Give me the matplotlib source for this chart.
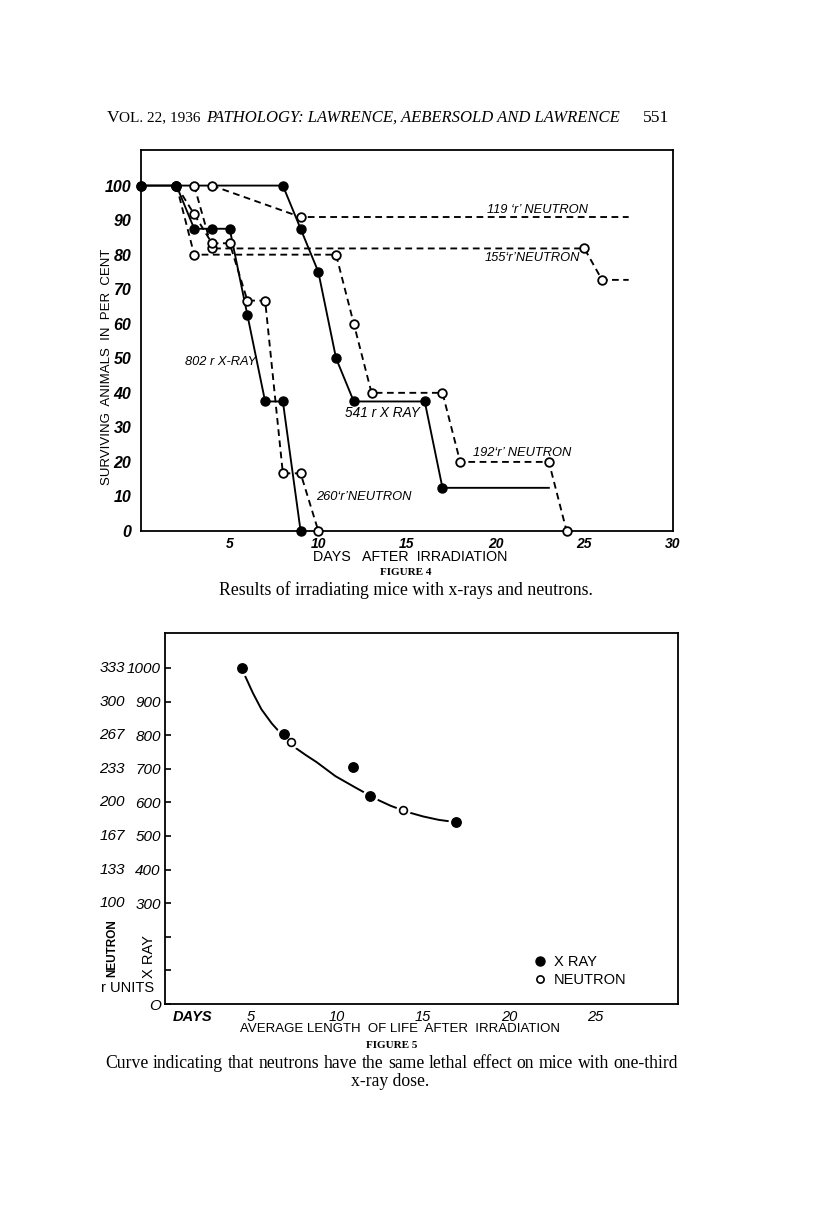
import matplotlib
matplotlib.use("Agg")
import matplotlib.pyplot as plt
from matplotlib.lines import Line2D
import matplotlib.transforms as mtransforms

# ---------------- data: Figure 4 (survival, per cent vs days) ----------------
xray802_days = [0, 2, 3, 4, 5, 6, 7, 8, 9]
xray802_pct = [100, 100, 87.5, 87.5, 87.5, 62.5, 37.5, 37.5, 0]
xray541_days = [0, 8, 9, 10, 11, 12, 16, 17, 23]
xray541_pct = [100, 100, 87.5, 75, 50, 37.5, 37.5, 12.5, 12.5]
n260_days = [2, 3, 4, 5, 6, 7, 8, 9, 10]
n260_pct = [100, 91.7, 83.3, 83.3, 66.7, 66.7, 16.7, 16.7, 0]
n192_days = [2, 3, 11, 12, 13, 17, 18, 23, 24]
n192_pct = [100, 80, 80, 60, 40, 40, 20, 20, 0]
n155_days = [3, 4, 25, 26, 27.5]
n155_pct = [100, 81.8, 81.8, 72.7, 72.7]
n119_days = [4, 9, 27.5]
n119_pct = [100, 90.9, 90.9]
fig4_yticks = [0, 10, 20, 30, 40, 50, 60, 70, 80, 90, 100]
fig4_ylabels = ["0", "10", "20", "30", "40", "50", "60", "70", "80", "90", "100"]
fig4_xticks = [5, 10, 15, 20, 25, 30]
fig4_xlabels = ["5", "10", "15", "20", "25", "30"]

# ---------------- data: Figure 5 (dose vs average length of life) ----------------
xray_days = [4.5, 6.9, 10.9, 11.9, 16.9]
xray_dose = [1000, 802, 705, 618, 541]
neutron_days = [7.3, 13.8]
neutron_dose_r = [260, 192]          # neutron r units (plotted on the 1:3 x-ray scale)
curve_days = [4.5, 4.6, 5.1, 5.6, 6.2, 6.9, 7.5, 8.2, 8.8, 9.9, 11.1, 12.3, 13.1, 14.1, 15.0, 15.9, 16.9]
curve_dose = [1000, 982, 926, 877, 835, 795, 765, 740, 720, 678, 643, 609, 590, 571, 558, 548, 541]
fig5_yticks = [0, 100, 200, 300, 400, 500, 600, 700, 800, 900, 1000]
fig5_xray_labels = ["O", "", "", "300", "400", "500", "600", "700", "800", "900", "1000"]
fig5_neutron_labels = ["", "", "", "100", "133", "167", "200", "233", "267", "300", "333"]
fig5_xticks = [5, 10, 15, 20, 25]
fig5_xlabels = ["5", "10", "15", "20", "25"]

caption4 = "Results of irradiating mice with x-rays and neutrons."
caption5_line1 = "Curve indicating that neutrons have the same lethal effect on mice with one-third"
caption5_line2 = "x-ray dose."

# ---------------- styling ----------------
HAND = ["Liberation Sans Narrow", "DejaVu Sans Condensed", "Liberation Sans", "DejaVu Sans"]
SERIF = ["Liberation Serif", "DejaVu Serif"]
W, H = 816, 1212
fig = plt.figure(figsize=(W / 100, H / 100), dpi=100)
fig.patch.set_facecolor("white")


def px_axes(l, t, r, b):
    return fig.add_axes([l / W, 1 - b / H, (r - l) / W, (b - t) / H])


def ftext(x, y, s, **kw):
    kw.setdefault("ha", "center")
    kw.setdefault("va", "center")
    return fig.text(x / W, 1 - y / H, s, **kw)


LW = 1.35
DASH = (0, (3.6, 2.4))

# ---------------- header ----------------
ftext(107, 118, "V", family=SERIF, fontsize=12.6, ha="left")
ftext(119, 118, "OL. 22, 1936", family=SERIF, fontsize=11, ha="left")
ftext(206, 118, "PATHOLOGY: LAWRENCE, AEBERSOLD AND LAWRENCE", family=SERIF,
      fontsize=12, style="italic", ha="left")
ftext(669, 118, "551", family=SERIF, fontsize=12.6, ha="right")

# ---------------- Figure 4 ----------------
ax1 = px_axes(141, 150, 673, 531)
ax1.set_xlim(0, 30)
ax1.set_ylim(0, 110.3)
for s in ax1.spines.values():
    s.set_linewidth(1.3)


def series(ax, x, y, filled, dashed, nmark=None):
    ax.plot(x, y, color="black", lw=LW, linestyle=DASH if dashed else "-",
            zorder=2, clip_on=False)
    xm, ym = x[:nmark], y[:nmark]
    if filled:
        ax.plot(xm, ym, "o", ms=6.5, mfc="black", mec="black", zorder=5, clip_on=False)
    else:
        ax.plot(xm, ym, "o", ms=6.2, mfc="white", mec="black", mew=1.3, zorder=4,
                clip_on=False)


series(ax1, n119_days, n119_pct, False, True, -1)
series(ax1, n155_days, n155_pct, False, True, -1)
series(ax1, n192_days, n192_pct, False, True)
series(ax1, n260_days, n260_pct, False, True)
series(ax1, xray541_days, xray541_pct, True, False, -1)
series(ax1, xray802_days, xray802_pct, True, False)

ax1.set_yticks(fig4_yticks)
ax1.set_yticklabels(fig4_ylabels)
ax1.set_xticks(fig4_xticks)
ax1.set_xticklabels(fig4_xlabels)
ax1.tick_params(length=0)
ax1.tick_params(axis="y", pad=7)
ax1.tick_params(axis="x", pad=4)
for lab in ax1.get_yticklabels():
    lab.set_family(HAND); lab.set_fontsize(11.5); lab.set_weight("bold"); lab.set_style("italic")
for lab in ax1.get_xticklabels():
    lab.set_family(HAND); lab.set_fontsize(10); lab.set_weight("bold"); lab.set_style("italic")

ann = dict(family=HAND, fontsize=9.3, style="italic", ha="left", va="center")
ax1.text(19.5, 92.9, "119 \u2018r\u2019 NEUTRON", **ann)
ax1.text(19.4, 79.0, "155\u2018r\u2019NEUTRON", **ann)
ax1.text(2.5, 48.9, "802 r X-RAY", **ann)
ax1.text(11.5, 34.2, "541 r X RAY", family=HAND, fontsize=9.8, style="italic",
         ha="left", va="center")
ax1.text(18.7, 22.6, "192\u2018r\u2019 NEUTRON", **ann)
ax1.text(9.9, 9.8, "260\u2018r\u2019NEUTRON", **ann)

ftext(107, 367, "SURVIVING  ANIMALS  IN  PER  CENT", family=HAND, fontsize=9.5,
      rotation=90)
ftext(410, 557, "DAYS   AFTER  IRRADIATION", family=HAND, fontsize=10.3)
ftext(406, 572, "FIGURE 4", family=SERIF, fontsize=8, weight="bold")
ftext(406, 590, caption4, family=SERIF, fontsize=12.8)

# ---------------- Figure 5 ----------------
ax2 = px_axes(165, 633, 678, 1004)
ax2.set_xlim(0, 29.8)
ax2.set_ylim(0, 1104)
for s in ax2.spines.values():
    s.set_linewidth(1.3)

neutron_xeq = [3 * r for r in neutron_dose_r]
ax2.plot(curve_days, curve_dose, color="black", lw=1.4, zorder=2)
ax2.plot(xray_days, xray_dose, "o", ms=10.5, mfc="white", mec="white", zorder=3)
ax2.plot(neutron_days, neutron_xeq, "o", ms=9.5, mfc="white", mec="white", zorder=3)
ax2.plot(xray_days, xray_dose, "o", ms=6.8, mfc="black", mec="black", zorder=4)
ax2.plot(neutron_days, neutron_xeq, "o", ms=5.6, mfc="white", mec="black", mew=1.2, zorder=4)

ax2.set_yticks(fig5_yticks)
ax2.set_yticklabels(fig5_xray_labels)
ax2.tick_params(axis="y", direction="in", length=4.5, width=1.2, pad=3)
for lab in ax2.get_yticklabels():
    lab.set_family(HAND); lab.set_fontsize(11); lab.set_style("italic")
ax2.set_xticks(fig5_xticks)
ax2.set_xticklabels(fig5_xlabels)
ax2.tick_params(axis="x", length=0, pad=4)
for lab in ax2.get_xticklabels():
    lab.set_family(HAND); lab.set_fontsize(10.5); lab.set_style("italic")

trans = mtransforms.blended_transform_factory(ax2.transAxes, ax2.transData)
for v, lab in zip(fig5_yticks, fig5_neutron_labels):
    if lab:
        ax2.text(-0.103, v, lab, transform=trans, ha="center", va="center",
                 family=HAND, fontsize=11, style="italic")

ax2.text(1.6, -18, "DAYS", ha="center", va="top",
         family=HAND, fontsize=10.5, style="italic", weight="bold")

handles = [Line2D([], [], ls="", marker="o", ms=6.5, mfc="black", mec="black"),
           Line2D([], [], ls="", marker="o", ms=5.2, mfc="white", mec="black", mew=1.2)]
leg = ax2.legend(handles, ["X RAY", "NEUTRON"], loc="upper left",
                 bbox_to_anchor=((536 - 165) / 513, (1004 - 955) / 371), frameon=False,
                 handlelength=0.6, handletextpad=0.6, labelspacing=0.3,
                 borderpad=0, borderaxespad=0,
                 prop={"family": HAND, "size": 10.5})

ftext(112, 948, "NEUTRON", family=HAND, fontsize=8.5, weight="bold", rotation=90)
ftext(149, 957, "X RAY", family=HAND, fontsize=10.5, rotation=90)
ftext(128, 988, "r UNITS", family=HAND, fontsize=10.5)
ftext(400, 1029, "AVERAGE LENGTH  OF LIFE  AFTER  IRRADIATION", family=HAND, fontsize=9.5)
ftext(392, 1046, "FIGURE 5", family=SERIF, fontsize=8, weight="bold")

# justified first caption line (105 px to 678 px)
renderer = fig.canvas.get_renderer()
words = caption5_line1.split()
wtexts = [fig.text(0, 1 - 1063 / H, w, family=SERIF, fontsize=12.7, ha="left", va="center")
          for w in words]
widths = [t.get_window_extent(renderer).width for t in wtexts]
gap = (678 - 105 - sum(widths)) / (len(words) - 1)
xpos = 105.0
for t, wd in zip(wtexts, widths):
    t.set_x(xpos / W)
    xpos += wd + gap
ftext(390, 1081, caption5_line2, family=SERIF, fontsize=12.7)

fig.savefig("out.png", dpi=100, facecolor="white")
